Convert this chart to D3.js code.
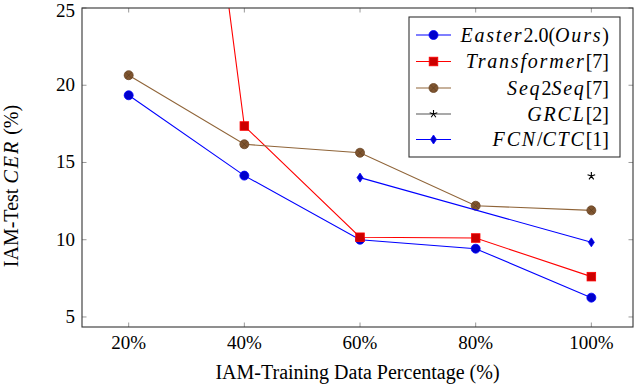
<!DOCTYPE html>
<html><head><meta charset="utf-8">
<script src="https://cdn.jsdelivr.net/npm/d3@7"></script>
<style>body{margin:0;background:#fff}svg{display:block}text{font-family:"Liberation Serif","Times New Roman","DejaVu Serif",serif}</style>
</head><body>
<script>
const percents = [20, 40, 60, 80, 100];
const xTickLabels = ["20%", "40%", "60%", "80%", "100%"];
const yTicks = [5, 10, 15, 20, 25];
const easter = [19.35, 14.15, 10.0, 9.42, 6.25];
const transformer = [75, 17.36, 10.16, 10.11, 7.61];
const seq2seq = [20.65, 16.18, 15.63, 12.2, 11.9];
const grclX = [100];
const grcl = [14.12];
const fcnX = [60, 100];
const fcn = [14.02, 9.83];

const W = 640, H = 384;
const m = {l: 82, r: 633, t: 8, b: 327};
const svg = d3.select("body").append("svg").attr("width", W).attr("height", H);

const x = d3.scaleLinear().domain([11.93, 107.2]).range([m.l, m.r]);
const y = d3.scaleLinear().domain([4.35, 25]).range([m.b, m.t]);

svg.append("defs").append("clipPath").attr("id", "clip")
  .append("rect").attr("x", m.l).attr("y", m.t).attr("width", m.r - m.l).attr("height", m.b - m.t);

const tickLen = 4.5, tickCol = "#999";
const g = svg.append("g");
percents.forEach(p => {
  g.append("line").attr("x1", x(p)).attr("x2", x(p)).attr("y1", m.b).attr("y2", m.b - tickLen).attr("stroke", tickCol);
  g.append("line").attr("x1", x(p)).attr("x2", x(p)).attr("y1", m.t).attr("y2", m.t + tickLen).attr("stroke", tickCol);
});
yTicks.forEach(v => {
  g.append("line").attr("x1", m.l).attr("x2", m.l + tickLen).attr("y1", y(v)).attr("y2", y(v)).attr("stroke", tickCol);
  g.append("line").attr("x1", m.r).attr("x2", m.r - tickLen).attr("y1", y(v)).attr("y2", y(v)).attr("stroke", tickCol);
});

percents.forEach((p, i) => {
  svg.append("text").attr("x", x(p)).attr("y", m.b + 22).attr("text-anchor", "middle")
    .attr("font-size", 19).text(xTickLabels[i]);
});
yTicks.forEach(v => {
  svg.append("text").attr("x", m.l - 7).attr("y", Math.max(y(v) + 6, 17)).attr("text-anchor", "end")
    .attr("font-size", 19).text(v);
});

svg.append("text").attr("x", (m.l + m.r) / 2).attr("y", 379).attr("text-anchor", "middle")
  .attr("font-size", 20).text("IAM-Training Data Percentage (%)");
const yt = svg.append("text").attr("transform", `translate(18,186) rotate(-90)`)
  .attr("text-anchor", "middle").attr("font-size", 20);
yt.append("tspan").text("IAM-Test ");
yt.append("tspan").attr("font-style", "italic").attr("letter-spacing", 2).text("CER");
yt.append("tspan").text(" (%)");

const plot = svg.append("g").attr("clip-path", "url(#clip)");
const line = d3.line().x(d => x(d[0])).y(d => y(d[1]));

function circle(gg, cx, cy, r, fill, stroke) {
  gg.append("circle").attr("cx", cx).attr("cy", cy).attr("r", r).attr("fill", fill).attr("stroke", stroke).attr("stroke-width", 0.8);
}
function square(gg, cx, cy, s, fill, stroke) {
  gg.append("rect").attr("x", cx - s).attr("y", cy - s).attr("width", 2 * s).attr("height", 2 * s).attr("fill", fill).attr("stroke", stroke).attr("stroke-width", 0.8);
}
function otimes(gg, cx, cy, r, fill, stroke) {
  gg.append("circle").attr("cx", cx).attr("cy", cy).attr("r", r).attr("fill", fill).attr("stroke", stroke).attr("stroke-width", 0.8);
  const k = r * 0.7;
  gg.append("path").attr("d", `M${cx - k},${cy - k}L${cx + k},${cy + k}M${cx - k},${cy + k}L${cx + k},${cy - k}`)
    .attr("stroke", "#5e3f20").attr("stroke-width", 0.7);
}
function star(gg, cx, cy, r, col) {
  let d = "";
  for (let i = 0; i < 5; i++) {
    const a = -Math.PI / 2 + i * 2 * Math.PI / 5;
    d += `M${cx},${cy}L${cx + r * Math.cos(a)},${cy + r * Math.sin(a)}`;
  }
  gg.append("path").attr("d", d).attr("stroke", col).attr("stroke-width", 1.1);
}
function diamond(gg, cx, cy, w, h, fill, stroke) {
  gg.append("path").attr("d", `M${cx},${cy - h}L${cx + w},${cy}L${cx},${cy + h}L${cx - w},${cy}Z`)
    .attr("fill", fill).attr("stroke", stroke).attr("stroke-width", 0.8);
}

const blue = "#0000ff", blueFill = "#0000cc";
const red = "#ff0000", redFill = "#cc0000";
const brown = "#8f6438", brownFill = "#7f5530";

plot.append("path").datum(percents.map((p, i) => [p, easter[i]])).attr("d", line)
  .attr("fill", "none").attr("stroke", blue).attr("stroke-width", 1.1);
percents.forEach((p, i) => circle(plot, x(p), y(easter[i]), 4.5, blueFill, blue));
plot.append("path").datum(percents.map((p, i) => [p, transformer[i]])).attr("d", line)
  .attr("fill", "none").attr("stroke", red).attr("stroke-width", 1.1);
percents.forEach((p, i) => square(plot, x(p), y(transformer[i]), 4.3, redFill, red));
plot.append("path").datum(percents.map((p, i) => [p, seq2seq[i]])).attr("d", line)
  .attr("fill", "none").attr("stroke", brown).attr("stroke-width", 1.1);
percents.forEach((p, i) => otimes(plot, x(p), y(seq2seq[i]), 4.5, brownFill, "#6b4626"));
grclX.forEach((p, i) => star(plot, x(p), y(grcl[i]), 4, "#000"));
plot.append("path").datum(fcnX.map((p, i) => [p, fcn[i]])).attr("d", line)
  .attr("fill", "none").attr("stroke", blue).attr("stroke-width", 1.1);
fcnX.forEach((p, i) => diamond(plot, x(p), y(fcn[i]), 3, 4.5, blueFill, blue));

svg.append("rect").attr("x", m.l).attr("y", m.t).attr("width", m.r - m.l).attr("height", m.b - m.t)
  .attr("fill", "none").attr("stroke", "#333").attr("stroke-width", 1.1);

const L = {x: 409, y: 17, w: 211, h: 140};
const lg = svg.append("g");
lg.append("rect").attr("x", L.x).attr("y", L.y).attr("width", L.w).attr("height", L.h)
  .attr("fill", "#fff").attr("stroke", "#333").attr("stroke-width", 1.1);
const rowsY = [35, 61.5, 88, 114, 139.5];
const entries = [
  {parts: [["Easter", 1], ["2.0(", 0], ["Ours", 1], [")", 0]], col: blue, mk: (cx, cy) => circle(lg, cx, cy, 4.5, blueFill, blue)},
  {parts: [["Transformer", 1], ["[7]", 0]], col: red, mk: (cx, cy) => square(lg, cx, cy, 4.3, redFill, red)},
  {parts: [["Seq", 1], ["2", 0], ["Seq", 1], ["[7]", 0]], col: brown, mk: (cx, cy) => otimes(lg, cx, cy, 4.5, brownFill, "#6b4626")},
  {parts: [["GRCL", 1], ["[2]", 0]], col: "#555", mk: (cx, cy) => star(lg, cx, cy, 4, "#000")},
  {parts: [["FCN", 1], ["/", 0], ["CTC", 1], ["[1]", 0]], col: blue, mk: (cx, cy) => diamond(lg, cx, cy, 3, 4.5, blueFill, blue)}
];
entries.forEach((e, i) => {
  const cy = rowsY[i];
  lg.append("line").attr("x1", 416).attr("x2", 451).attr("y1", cy).attr("y2", cy).attr("stroke", e.col).attr("stroke-width", 1.1);
  e.mk(433.5, cy);
  const t = lg.append("text").attr("x", 609).attr("y", cy + 6.5).attr("text-anchor", "end").attr("font-size", 20);
  e.parts.forEach(p => {
    const s = t.append("tspan").text(p[0]);
    if (p[1]) s.attr("font-style", "italic").attr("letter-spacing", 1.8);
  });
});
</script>
</body></html>
